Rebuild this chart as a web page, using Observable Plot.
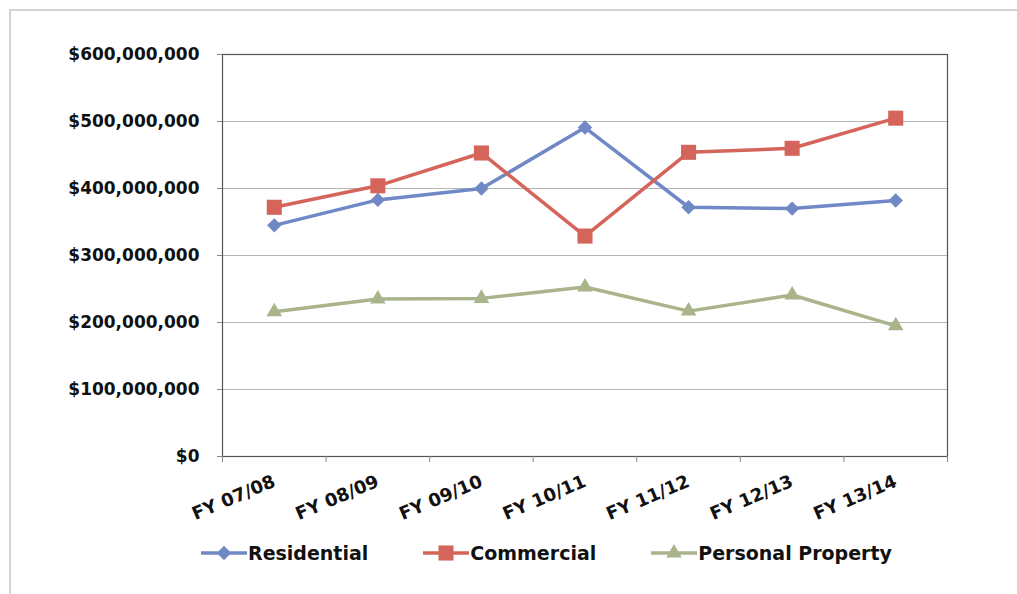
<!DOCTYPE html>
<html><head><meta charset="utf-8">
<script src="https://cdn.jsdelivr.net/npm/d3@7"></script>
<script src="https://cdn.jsdelivr.net/npm/@observablehq/plot@0.6"></script>
<style>
body{margin:0;background:#fff;}
#wrap{position:relative;width:1017px;height:594px;overflow:hidden;font-family:"DejaVu Sans",sans-serif;font-weight:bold;color:#111;}
#border{position:absolute;left:9px;top:9px;width:1030px;height:620px;border-left:2px solid #d4d4d4;border-top:2px solid #d4d4d4;}
#chart{position:absolute;left:0;top:0;}
#legend{position:absolute;top:542px;left:201px;display:flex;align-items:center;gap:55px;font-size:19px;}
.item{display:flex;align-items:center;gap:1px;}
</style></head>
<body><div id="wrap"><div id="border"></div><div id="chart"></div><div id="legend"></div></div>
<script>
const categories = ["FY 07/08","FY 08/09","FY 09/10","FY 10/11","FY 11/12","FY 12/13","FY 13/14"];
const seriesNames = ["Residential","Commercial","Personal Property"];
const residential = [345e6, 383e6, 400e6, 491e6, 372e6, 370e6, 382e6];
const commercial = [372e6, 404e6, 453e6, 329e6, 454e6, 460e6, 505e6];
const personalProperty = [216e6, 235e6, 236e6, 253e6, 217e6, 241e6, 195e6];
const yTicks = [0, 100e6, 200e6, 300e6, 400e6, 500e6, 600e6];
const colors = ["#7088c6", "#d5645a", "#a9b48a"];
const symbols = ["diamond2", "square", "triangle"];
const radii = [6.5, 8.5, 5.8];

const seriesValues = [residential, commercial, personalProperty];
const rows = [];
seriesNames.forEach((s, k) => seriesValues[k].forEach((v, i) => rows.push({series: s, i, value: v})));
const idx = d3.range(categories.length);
const boundaries = d3.range(categories.length + 1).map(i => i - 0.5);

const plot = Plot.plot({
  width: 1017, height: 530,
  marginLeft: 222, marginRight: 70, marginTop: 54, marginBottom: 74,
  style: {fontFamily: '"DejaVu Sans", sans-serif', fontWeight: "bold", fontSize: "17px", color: "#111", background: "transparent"},
  x: {type: "linear", domain: [-0.5, categories.length - 0.5], label: null},
  y: {domain: [0, 600e6], label: null},
  color: {domain: seriesNames, range: colors},
  symbol: {domain: seriesNames, range: symbols},
  marks: [
    Plot.gridY(yTicks, {stroke: "#b4b4b4", strokeOpacity: 1, strokeWidth: 1.2}),
    Plot.frame({stroke: "#555", strokeWidth: 1.2}),
    Plot.axisY(yTicks, {tickSize: 5, tickPadding: 18, stroke: "#888", fill: "#111", fontSize: 17, fontWeight: "bold",
      label: null, tickFormat: d => "$" + d3.format(",")(d)}),
    Plot.axisX(boundaries, {tickSize: 6, stroke: "#888", label: null, tickFormat: () => ""}),
    Plot.axisX(idx, {tickSize: 0, tickPadding: 24, tickRotate: -23, fill: "#111", fontSize: 18, fontWeight: "bold",
      label: null, tickFormat: i => categories[i]}),
    Plot.line(rows, {x: "i", y: "value", z: "series", stroke: "series", strokeWidth: 3.5}),
    ...seriesNames.map((s, k) => Plot.dot(rows.filter(d => d.series === s),
      {x: "i", y: "value", fill: "series", symbol: "series", r: radii[k], stroke: "none"}))
  ]
});
document.getElementById("chart").appendChild(plot);

const legend = d3.select("#legend");
seriesNames.forEach((s, k) => {
  const it = legend.append("div").attr("class", "item");
  const svg = it.append("svg").attr("width", 46).attr("height", 20);
  svg.append("line").attr("x1", 0).attr("x2", 46).attr("y1", 10).attr("y2", 10)
    .attr("stroke", colors[k]).attr("stroke-width", 3.5);
  const sym = {diamond2: d3.symbolDiamond2, square: d3.symbolSquare, triangle: d3.symbolTriangle}[symbols[k]];
  svg.append("path").attr("transform", "translate(23,10)")
    .attr("d", d3.symbol(sym, Math.PI * radii[k] * radii[k])()).attr("fill", colors[k]);
  it.append("span").text(s);
});
</script></body></html>
